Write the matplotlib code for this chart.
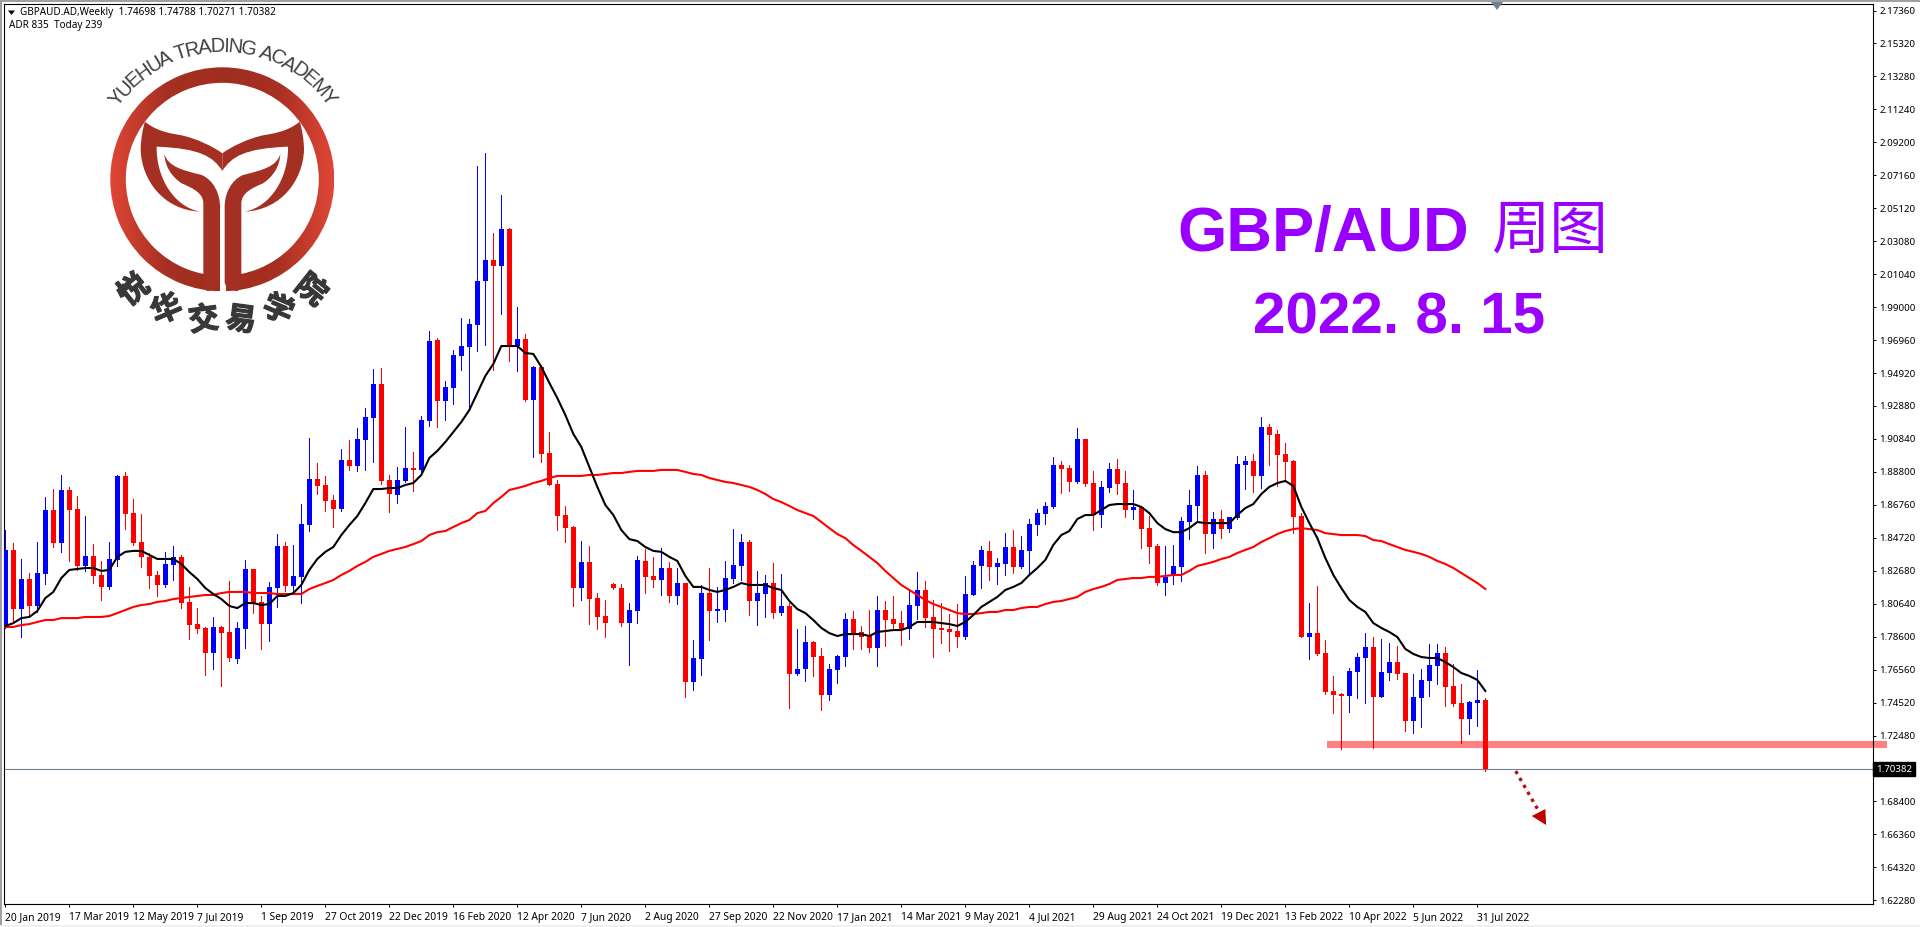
import numpy as np
import matplotlib
matplotlib.use("Agg")
import matplotlib.pyplot as plt
import matplotlib.patheffects as pe
from matplotlib.colors import LinearSegmentedColormap
from matplotlib.font_manager import FontProperties
from matplotlib.patches import PathPatch, Polygon, Rectangle, Wedge
from matplotlib.path import Path
from matplotlib.textpath import text_to_path

highs = [
    1.8520, 1.8439, 1.8341, 1.8254, 1.8446, 1.8725, 1.8774, 1.8861, 1.8787, 1.8731,
    1.8607, 1.8433, 1.8329, 1.8446, 1.8861, 1.8880, 1.8712, 1.8619, 1.8378, 1.8267,
    1.8385, 1.8421, 1.8366, 1.8168, 1.8037, 1.7920, 1.7982, 1.7926, 1.8205, 1.7951,
    1.8335, 1.8279, 1.8112, 1.8199, 1.8495, 1.8446, 1.8427, 1.8681, 1.9089, 1.8935,
    1.8855, 1.8737, 1.9021, 1.9077, 1.9151, 1.9275, 1.9517, 1.9523, 1.8861, 1.8911,
    1.9158, 1.9004, 1.9226, 1.9752, 1.9709, 1.9443, 1.9635, 1.9832, 1.9826, 2.0774,
    2.0854, 2.0359, 2.0594, 2.0389, 1.9901, 1.9733, 1.9536, 1.9530, 1.9127, 1.8830,
    1.8669, 1.8545, 1.8452, 1.8421, 1.8130, 1.8087, 1.8192, 1.8186, 1.8068, 1.8360,
    1.8403, 1.8354, 1.8409, 1.8323, 1.8285, 1.8192, 1.7839, 1.8180, 1.8285, 1.8168,
    1.8329, 1.8526, 1.8495, 1.8458, 1.8267, 1.8242, 1.8316, 1.8248, 1.8068, 1.7907,
    1.7926, 1.7833, 1.7790, 1.7691, 1.7747, 1.8006, 1.8019, 1.7926, 1.8025, 1.8112,
    1.8081, 1.8112, 1.8019, 1.8149, 1.8260, 1.8205, 1.8087, 1.8068, 1.8000, 1.8062,
    1.8236, 1.8329, 1.8421, 1.8452, 1.8347, 1.8501, 1.8520, 1.8483, 1.8588, 1.8650,
    1.8693, 1.8973, 1.8948, 1.8923, 1.9151, 1.9083, 1.8886, 1.8824, 1.8935, 1.8960,
    1.8886, 1.8768, 1.8669, 1.8607, 1.8433, 1.8421, 1.8427, 1.8601, 1.8768, 1.8917,
    1.8886, 1.8632, 1.8644, 1.8601, 1.8979, 1.8979, 1.8991, 1.9220, 1.9176, 1.9139,
    1.9059, 1.8954, 1.8625, 1.8068, 1.8174, 1.7839, 1.7617, 1.7511, 1.7666, 1.7759,
    1.7882, 1.7858, 1.7845, 1.7821, 1.7802, 1.7635, 1.7629, 1.7660, 1.7815, 1.7815,
    1.7796, 1.7691, 1.7567, 1.7462, 1.7654, 1.74788,
]
lows = [
    1.7914, 1.7944, 1.7858, 1.7982, 1.8013, 1.8186, 1.8415, 1.8385, 1.8329, 1.8273,
    1.8267, 1.8192, 1.8087, 1.8155, 1.8298, 1.8526, 1.8427, 1.8292, 1.8161, 1.8112,
    1.8168, 1.8211, 1.8037, 1.7845, 1.7882, 1.7623, 1.7660, 1.7555, 1.7710, 1.7697,
    1.7790, 1.8006, 1.7784, 1.7833, 1.8044, 1.8143, 1.8137, 1.8068, 1.8514, 1.8743,
    1.8638, 1.8539, 1.8638, 1.8892, 1.8886, 1.8892, 1.8941, 1.8805, 1.8632, 1.8687,
    1.8818, 1.8762, 1.8867, 1.9164, 1.9158, 1.9201, 1.9300, 1.9511, 1.9263, 1.9628,
    1.9665, 1.9511, 1.9857, 1.9566, 1.9505, 1.9319, 1.8973, 1.8941, 1.8799, 1.8520,
    1.8446, 1.8050, 1.8087, 1.7938, 1.7907, 1.7858, 1.8155, 1.7926, 1.7685, 1.7944,
    1.8130, 1.8168, 1.8118, 1.8075, 1.8062, 1.7487, 1.7530, 1.7623, 1.7839, 1.7951,
    1.7957, 1.8192, 1.8211, 1.7994, 1.7932, 1.7982, 1.7975, 1.7994, 1.7418, 1.7623,
    1.7586, 1.7617, 1.7406, 1.7468, 1.7574, 1.7679, 1.7784, 1.7784, 1.7765, 1.7679,
    1.7802, 1.7901, 1.7808, 1.7845, 1.7969, 1.7920, 1.7734, 1.7821, 1.7771, 1.7796,
    1.7845, 1.8118, 1.8161, 1.8211, 1.8186, 1.8242, 1.8254, 1.8285, 1.8248, 1.8489,
    1.8557, 1.8656, 1.8749, 1.8762, 1.8811, 1.8793, 1.8520, 1.8539, 1.8756, 1.8743,
    1.8601, 1.8588, 1.8409, 1.8316, 1.8180, 1.8118, 1.8186, 1.8205, 1.8464, 1.8570,
    1.8378, 1.8409, 1.8470, 1.8507, 1.8588, 1.8774, 1.8756, 1.8780, 1.8923, 1.8793,
    1.8824, 1.8502, 1.7858, 1.7722, 1.7747, 1.7505, 1.7387, 1.7165, 1.7394, 1.7481,
    1.7449, 1.7171, 1.7487, 1.7592, 1.7598, 1.7276, 1.7264, 1.7301, 1.7493, 1.7567,
    1.7431, 1.7431, 1.7202, 1.7258, 1.7307, 1.70271,
]
opens = [
    1.7920, 1.8397, 1.8031, 1.8217, 1.8050, 1.8248, 1.8644, 1.8439, 1.8768, 1.8650,
    1.8298, 1.8360, 1.8242, 1.8168, 1.8335, 1.8855, 1.8625, 1.8446, 1.8354, 1.8242,
    1.8180, 1.8304, 1.8354, 1.8075, 1.7938, 1.7914, 1.7759, 1.7920, 1.7889, 1.7722,
    1.7907, 1.8279, 1.8075, 1.7938, 1.8161, 1.8421, 1.8174, 1.8230, 1.8551, 1.8836,
    1.8799, 1.8706, 1.8650, 1.8954, 1.8917, 1.9077, 1.9213, 1.9424, 1.8830, 1.8737,
    1.8824, 1.8904, 1.8892, 1.9195, 1.9696, 1.9319, 1.9400, 1.9597, 1.9653, 1.9789,
    2.0062, 2.0192, 2.0155, 2.0383, 1.9659, 1.9702, 1.9325, 1.9530, 1.8997, 1.8805,
    1.8613, 1.8539, 1.8161, 1.8323, 1.8099, 1.7988, 1.8186, 1.8161, 1.7944, 1.8019,
    1.8329, 1.8236, 1.8211, 1.8285, 1.8112, 1.8192, 1.7580, 1.7722, 1.8130, 1.8019,
    1.8025, 1.8217, 1.8298, 1.8446, 1.8081, 1.8124, 1.8192, 1.8006, 1.8050, 1.7629,
    1.7660, 1.7827, 1.7741, 1.7499, 1.7654, 1.7734, 1.7969, 1.7889, 1.7870, 1.7790,
    1.8025, 1.7969, 1.7944, 1.7907, 1.8050, 1.8149, 1.7982, 1.7914, 1.7907, 1.7895,
    1.7858, 1.8118, 1.8298, 1.8391, 1.8292, 1.8310, 1.8415, 1.8292, 1.8391, 1.8551,
    1.8619, 1.8663, 1.8923, 1.8904, 1.8818, 1.9083, 1.8811, 1.8613, 1.8780, 1.8898,
    1.8811, 1.8644, 1.8663, 1.8532, 1.8421, 1.8192, 1.8242, 1.8292, 1.8570, 1.8669,
    1.8861, 1.8495, 1.8588, 1.8526, 1.8594, 1.8923, 1.8948, 1.8855, 1.9158, 1.9114,
    1.8991, 1.8948, 1.8607, 1.7858, 1.7882, 1.7759, 1.7524, 1.7505, 1.7493, 1.7642,
    1.7728, 1.7796, 1.7487, 1.7635, 1.7703, 1.7635, 1.7338, 1.7481, 1.7586, 1.7679,
    1.7759, 1.7555, 1.7449, 1.7350, 1.7449, 1.74698,
]
closes = [
    1.8397, 1.8031, 1.8217, 1.8050, 1.8254, 1.8644, 1.8439, 1.8768, 1.8644, 1.8298,
    1.8360, 1.8236, 1.8168, 1.8341, 1.8855, 1.8619, 1.8439, 1.8354, 1.8236, 1.8180,
    1.8310, 1.8354, 1.8068, 1.7932, 1.7907, 1.7759, 1.7920, 1.7882, 1.7728, 1.7914,
    1.8279, 1.8068, 1.7938, 1.8168, 1.8421, 1.8174, 1.8236, 1.8557, 1.8836, 1.8793,
    1.8700, 1.8650, 1.8954, 1.8917, 1.9083, 1.9220, 1.9424, 1.8824, 1.8743, 1.8830,
    1.8904, 1.8892, 1.9201, 1.9690, 1.9319, 1.9406, 1.9604, 1.9659, 1.9795, 2.0062,
    2.0192, 2.0155, 2.0383, 1.9659, 1.9702, 1.9325, 1.9530, 1.8991, 1.8799, 1.8607,
    1.8532, 1.8161, 1.8323, 1.8093, 1.7982, 1.7944, 1.8161, 1.7944, 1.8025, 1.8335,
    1.8230, 1.8211, 1.8285, 1.8112, 1.8192, 1.7580, 1.7728, 1.8130, 1.8019, 1.8031,
    1.8223, 1.8304, 1.8446, 1.8081, 1.8130, 1.8192, 1.8006, 1.8050, 1.7629, 1.7660,
    1.7827, 1.7734, 1.7499, 1.7660, 1.7741, 1.7969, 1.7876, 1.7858, 1.7790, 1.8025,
    1.7963, 1.7938, 1.7901, 1.8056, 1.8149, 1.7975, 1.7907, 1.7901, 1.7889, 1.7858,
    1.8124, 1.8304, 1.8397, 1.8292, 1.8316, 1.8415, 1.8292, 1.8397, 1.8557, 1.8625,
    1.8669, 1.8923, 1.8898, 1.8818, 1.9083, 1.8805, 1.8613, 1.8787, 1.8898, 1.8805,
    1.8644, 1.8663, 1.8526, 1.8415, 1.8192, 1.8230, 1.8298, 1.8576, 1.8675, 1.8861,
    1.8495, 1.8588, 1.8526, 1.8601, 1.8929, 1.8948, 1.8855, 1.9158, 1.9108, 1.8985,
    1.8941, 1.8601, 1.7858, 1.7882, 1.7753, 1.7518, 1.7499, 1.7493, 1.7648, 1.7734,
    1.7796, 1.7487, 1.7642, 1.7703, 1.7629, 1.7338, 1.7487, 1.7592, 1.7685, 1.7759,
    1.7549, 1.7443, 1.7350, 1.7455, 1.7468, 1.70382,
]
ma_black = [
    1.7926, 1.7944, 1.7975, 1.7982, 1.8019, 1.8099, 1.8137, 1.8223, 1.8273, 1.8279,
    1.8285, 1.8285, 1.8267, 1.8273, 1.8354, 1.8385, 1.8391, 1.8391, 1.8366, 1.8341,
    1.8341, 1.8341, 1.8310, 1.8260, 1.8217, 1.8161, 1.8124, 1.8093, 1.8050, 1.8037,
    1.8068, 1.8068, 1.8056, 1.8062, 1.8112, 1.8112, 1.8130, 1.8180, 1.8273, 1.8341,
    1.8385, 1.8415, 1.8489, 1.8551, 1.8607, 1.8687, 1.8774, 1.8774, 1.8780, 1.8780,
    1.8799, 1.8811, 1.8861, 1.8966, 1.9010, 1.9065, 1.9127, 1.9189, 1.9263, 1.9368,
    1.9474, 1.9548, 1.9659, 1.9659, 1.9659, 1.9616, 1.9610, 1.9530, 1.9431, 1.9337,
    1.9232, 1.9115, 1.9034, 1.8911, 1.8787, 1.8675, 1.8613, 1.8520, 1.8464, 1.8452,
    1.8415, 1.8391, 1.8385, 1.8354, 1.8329, 1.8236, 1.8168, 1.8168, 1.8149, 1.8137,
    1.8149, 1.8168, 1.8192, 1.8180, 1.8180, 1.8180, 1.8161, 1.8149, 1.8081, 1.8031,
    1.8006, 1.7963, 1.7914, 1.7882, 1.7864, 1.7876, 1.7876, 1.7876, 1.7864, 1.7889,
    1.7895, 1.7901, 1.7901, 1.7920, 1.7951, 1.7951, 1.7951, 1.7944, 1.7938, 1.7926,
    1.7951, 1.7994, 1.8044, 1.8075, 1.8106, 1.8149, 1.8168, 1.8192, 1.8242, 1.8285,
    1.8335, 1.8428, 1.8489, 1.8514, 1.8588, 1.8613, 1.8613, 1.8644, 1.8675, 1.8681,
    1.8681, 1.8681, 1.8663, 1.8625, 1.8563, 1.8526, 1.8507, 1.8507, 1.8532, 1.8570,
    1.8563, 1.8563, 1.8563, 1.8563, 1.8613, 1.8656, 1.8681, 1.8743, 1.8787, 1.8811,
    1.8824, 1.8793, 1.8663, 1.8563, 1.8470, 1.8347, 1.8242, 1.8161, 1.8087, 1.8044,
    1.8013, 1.7944, 1.7914, 1.7889, 1.7858, 1.7784, 1.7753, 1.7734, 1.7728, 1.7728,
    1.7703, 1.7672, 1.7635, 1.7617, 1.7592, 1.7524,
]
ma_red = [
    1.7920, 1.7920, 1.7932, 1.7938, 1.7951, 1.7963, 1.7963, 1.7975, 1.7975, 1.7975,
    1.7982, 1.7982, 1.7982, 1.7988, 1.8006, 1.8025, 1.8044, 1.8056, 1.8062, 1.8075,
    1.8081, 1.8093, 1.8099, 1.8106, 1.8112, 1.8118, 1.8118, 1.8130, 1.8137, 1.8137,
    1.8137, 1.8130, 1.8130, 1.8130, 1.8124, 1.8124, 1.8124, 1.8124, 1.8155, 1.8174,
    1.8192, 1.8211, 1.8242, 1.8267, 1.8298, 1.8323, 1.8354, 1.8372, 1.8391, 1.8403,
    1.8415, 1.8433, 1.8452, 1.8489, 1.8507, 1.8514, 1.8539, 1.8563, 1.8582, 1.8625,
    1.8638, 1.8687, 1.8725, 1.8768, 1.8780, 1.8793, 1.8811, 1.8824, 1.8842, 1.8855,
    1.8855, 1.8855, 1.8855, 1.8861, 1.8861, 1.8867, 1.8873, 1.8873, 1.8880, 1.8886,
    1.8886, 1.8886, 1.8892, 1.8892, 1.8892, 1.8880, 1.8867, 1.8861, 1.8842, 1.8830,
    1.8818, 1.8811, 1.8799, 1.8787, 1.8768, 1.8743, 1.8712, 1.8693, 1.8669, 1.8644,
    1.8625, 1.8607, 1.8570, 1.8532, 1.8495, 1.8470, 1.8427, 1.8391, 1.8354, 1.8316,
    1.8267, 1.8223, 1.8180, 1.8149, 1.8118, 1.8087, 1.8062, 1.8044, 1.8025, 1.8006,
    1.8000, 1.8000, 1.8006, 1.8013, 1.8013, 1.8025, 1.8025, 1.8037, 1.8044, 1.8044,
    1.8062, 1.8075, 1.8081, 1.8093, 1.8106, 1.8137, 1.8155, 1.8168, 1.8186, 1.8211,
    1.8217, 1.8223, 1.8223, 1.8230, 1.8230, 1.8236, 1.8242, 1.8242, 1.8267, 1.8298,
    1.8310, 1.8323, 1.8341, 1.8354, 1.8378, 1.8397, 1.8415, 1.8446, 1.8470, 1.8495,
    1.8514, 1.8526, 1.8532, 1.8526, 1.8520, 1.8501, 1.8495, 1.8489, 1.8489, 1.8489,
    1.8483, 1.8458, 1.8452, 1.8433, 1.8415, 1.8397, 1.8385, 1.8372, 1.8354, 1.8329,
    1.8310, 1.8285, 1.8254, 1.8223, 1.8192, 1.8155,
]
date_labels = [
    "20 Jan 2019", "17 Mar 2019", "12 May 2019", "7 Jul 2019", "1 Sep 2019", "27 Oct 2019",
    "22 Dec 2019", "16 Feb 2020", "12 Apr 2020", "7 Jun 2020", "2 Aug 2020", "27 Sep 2020",
    "22 Nov 2020", "17 Jan 2021", "14 Mar 2021", "9 May 2021", "4 Jul 2021", "29 Aug 2021",
    "24 Oct 2021", "19 Dec 2021", "13 Feb 2022", "10 Apr 2022", "5 Jun 2022", "31 Jul 2022",
]
price_ticks = [
    2.1736, 2.1532, 2.1328, 2.1124, 2.0920, 2.0716, 2.0512, 2.0308, 2.0104, 1.9900,
    1.9696, 1.9492, 1.9288, 1.9084, 1.8880, 1.8676, 1.8472, 1.8268, 1.8064, 1.7860,
    1.7656, 1.7452, 1.7248, 1.7044, 1.6840, 1.6636, 1.6432, 1.6228,
]
last_price = 1.70382
zone_low, zone_high = 1.7171, 1.7214
zone_start = 165.2
arrow_x = [188.8, 191.6]
arrow_y = [1.7028, 1.6787]
arrow_head = [(190.8, 1.6750), (192.5, 1.6793), (192.6, 1.6694)]

header_1 = "GBPAUD.AD,Weekly  1.74698 1.74788 1.70271 1.70382"
header_2 = "ADR 835  Today 239"
title_1 = "GBP/AUD"
title_2 = "周图"
title_3 = "2022. 8. 15"
logo_en = "YUEHUA TRADING ACADEMY"
logo_cn = "悦华交易学院"

W, H = 1920, 927
plt.rcParams['font.family'] = ['Noto Sans', 'DejaVu Sans']

fig = plt.figure(figsize=(W / 100, H / 100), dpi=100, facecolor="white")
ax = fig.add_axes([4 / W, (H - 904) / H, (1873 - 4) / W, 900 / H])

x = np.arange(len(opens))
bar_colors = ["#0000ff" if c > o else "#ff0000" for o, c in zip(opens, closes)]
o_arr = np.array(opens)
c_arr = np.array(closes)

ax.add_patch(Rectangle((zone_start, zone_low), 70, zone_high - zone_low, facecolor="#ff8080",
                       edgecolor="none", zorder=1, clip_on=False))
ax.axhline(last_price, color="#708090", lw=0.8, zorder=1.5)
# lw just under 1 px, otherwise aliased wicks come out 2 px wide
ax.vlines(x, lows, highs, colors=bar_colors, lw=0.66, antialiased=False, zorder=2)
ax.bar(x, np.abs(c_arr - o_arr), bottom=np.minimum(o_arr, c_arr), width=0.625, color=bar_colors,
       linewidth=0, antialiased=False, zorder=3)
ax.plot(x, ma_red, color="#ff0000", lw=1.5, zorder=4)
ax.plot(x, ma_black, color="#000000", lw=1.5, zorder=5)

ax.plot(arrow_x, arrow_y, color="#b01010", lw=2.4, linestyle=(0, (1, 1.4)), zorder=6)
ax.add_patch(Polygon(arrow_head, closed=True, facecolor="#c00000", edgecolor="none", zorder=6))

ax.set_xlim((4 - 5.33) / 8, (1873 - 5.33) / 8)
ax.set_ylim(2.1801 - 0.000619 * 904, 2.1801 - 0.000619 * 4)

ax.set_xticks(x[::8][:len(date_labels)])
ax.set_xticklabels(date_labels, ha="left", fontsize=7.4)
ax.set_yticks(price_ticks)
ax.set_yticklabels(["" if abs(p - 1.7044) < 1e-6 else "%.5f" % p for p in price_ticks], fontsize=7.0)
ax.yaxis.tick_right()
ax.tick_params(axis="x", length=2.5, width=0.7, pad=3)
ax.tick_params(axis="y", length=2.5, width=0.7, pad=2)
for s in ax.spines.values():
    s.set_linewidth(0.8)

ax.text(1.0016, last_price, "%.5f" % last_price, transform=ax.get_yaxis_transform(), color="white",
        fontsize=7.0, va="center", ha="left", zorder=10,
        bbox=dict(facecolor="black", edgecolor="black", pad=1.8), clip_on=False)

# overlay in pixel coords for logo, header and window edges
ov = fig.add_axes([0, 0, 1, 1], zorder=20)
ov.patch.set_alpha(0)
ov.axis("off")

ov.add_patch(Rectangle((0, 0), W, 2, facecolor="#a0a0a0", edgecolor="none"))
ov.add_patch(Rectangle((0, 0), 2, H, facecolor="#a0a0a0", edgecolor="none"))
ov.add_patch(Rectangle((0, 925), W, 2, facecolor="#f0f0f0", edgecolor="none"))
ov.add_patch(Polygon([(1491, 2), (1503, 2), (1497, 10)], closed=True, facecolor="#708090", edgecolor="none"))

ov.add_patch(Polygon([(8, 10.5), (15, 10.5), (11.5, 15)], closed=True, facecolor="black", edgecolor="none"))
ov.text(20, 12.5, header_1, fontsize=7.2, va="center", ha="left", color="black")
ov.text(9, 25.5, header_2, fontsize=7.2, va="center", ha="left", color="black")

ov.text(1177, 251, title_1, fontsize=45.5, color="#9900ff", family="Liberation Sans",
        fontweight="bold", va="baseline", ha="left")
ov.text(1491, 231, title_2, fontsize=42, color="#9900ff", family=["Noto Sans CJK SC", "DejaVu Sans"],
        va="center", ha="left")
ov.text(1253, 334, title_3, fontsize=42, color="#9900ff", family="Liberation Sans",
        fontweight="bold", va="baseline", ha="left")

# logo
cx, cy = 222.3, 179.3
R_out, R_in = 112.0, 96.5
ring = Wedge((cx, cy), R_out, 0, 360, width=R_out - R_in, facecolor="none", edgecolor="none")
ov.add_patch(ring)
grad_cmap = LinearSegmentedColormap.from_list("logo", ["#e04636", "#a63022", "#a02e20", "#a63022", "#e04636"])
grad = np.linspace(0, 1, 256).reshape(1, -1)
im = ov.imshow(grad, cmap=grad_cmap, extent=[cx - R_out, cx + R_out, cy + R_out, cy - R_out],
               aspect="auto", zorder=2)
im.set_clip_path(ring)
ov.add_patch(Rectangle((220, 265), 5.5, 30, facecolor="white", edgecolor="none", zorder=3))

M, L, C, Z = Path.MOVETO, Path.LINETO, Path.CURVE4, Path.CLOSEPOLY
crown = [
    (M, (435, 365)),
    (C, (470, 395)), (C, (520, 402)), (C, (540, 405)),
    (C, (590, 415)), (C, (640, 440)), (C, (667, 460)),
    (L, (667, 513)),
    (C, (640, 470)), (C, (600, 445)), (C, (470, 440)),
    (C, (468, 530)), (C, (520, 620)), (C, (600, 635)),
    (C, (490, 630)), (C, (425, 540)), (C, (422, 450)),
    (C, (422, 420)), (C, (428, 385)), (C, (435, 365)),
    (Z, (435, 365)),
]
stem = [
    (M, (493, 462)),
    (C, (505, 500)), (C, (545, 510)), (C, (605, 525)),
    (C, (640, 540)), (C, (660, 580)), (C, (660, 620)),
    (L, (660, 845)),
    (C, (660, 860)), (C, (640, 873)), (C, (620, 873)),
    (L, (610, 822)),
    (L, (610, 610)),
    (C, (610, 580)), (C, (580, 565)), (C, (545, 550)),
    (C, (515, 530)), (C, (495, 500)), (C, (493, 462)),
    (Z, (493, 462)),
]
for shape in (crown, stem):
    codes = [s[0] for s in shape]
    verts = np.array([s[1] for s in shape], dtype=float)
    for mirror in (False, True):
        v = verts.copy()
        if mirror:
            v[:, 0] = 1334 - v[:, 0]
        ov.add_patch(PathPatch(Path(v / 3.0, codes), facecolor="#a33022", edgecolor="none", zorder=4))

# arc text
fp = FontProperties(family="Liberation Sans", size=14.5)
widths = [text_to_path.get_text_width_height_descent(ch, fp, False)[0] for ch in logo_en]
edges = np.concatenate([[0], np.cumsum(widths)])
mids = (edges[:-1] + edges[1:]) / 2
angles = (mids / edges[-1] - 0.5) * 2 * 55.0
for ch, a in zip(logo_en, angles):
    t = np.radians(a)
    ov.text(cx + 133 * np.sin(t), cy - 133 * np.cos(t), ch, fontproperties=fp, color="#404040",
            rotation=-a, rotation_mode="anchor", ha="center", va="center", zorder=5)
for ch, a in zip(logo_cn, [-38.5, -23, -7.5, 7.5, 23, 38.5]):
    t = np.radians(a)
    ov.text(cx + 142 * np.sin(t), cy + 142 * np.cos(t), ch, fontsize=22, color="#383838",
            family=["Noto Sans CJK SC", "DejaVu Sans"], fontweight="bold",
            path_effects=[pe.withStroke(linewidth=0.9, foreground="#383838")],
            rotation=-a, rotation_mode="anchor", ha="center", va="center", zorder=5)

ov.set_xlim(0, W)
ov.set_ylim(H, 0)

fig.savefig("out.png", dpi=100)
